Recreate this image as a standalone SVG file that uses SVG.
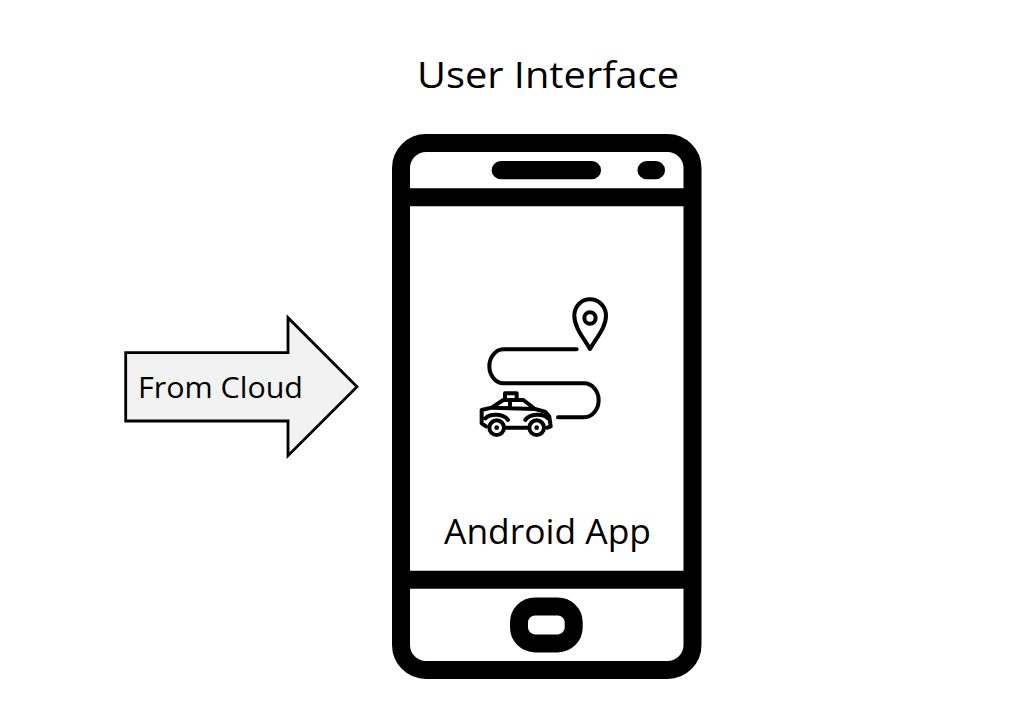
<svg xmlns="http://www.w3.org/2000/svg" width="1024" height="709" viewBox="0 0 1024 709">
<style>
.t{font-family:"Open Sans","Noto Sans","Liberation Sans",sans-serif;fill:#000}
.p{fill:none;stroke:#000;stroke-width:18}
.i{fill:none;stroke:#000;stroke-width:12;stroke-linecap:round;stroke-linejoin:round}
</style>
<rect width="1024" height="709" fill="#fff"/>
<g id="title"><text class="t" x="417" y="88" font-size="37" textLength="262" lengthAdjust="spacingAndGlyphs">User Interface</text></g>
<g id="phone">
<rect class="p" x="401" y="143" width="291.500" height="527" rx="25"/>
<path class="p" d="M401 197.300H692.500M401 579.700H692.500"/>
<rect x="491.700" y="161" width="109.300" height="18.300" rx="9.150"/>
<rect x="637.500" y="161" width="27.500" height="18.300" rx="9.150"/>
<rect class="p" x="519" y="606.400" width="54.700" height="37" rx="16"/>
</g>
<g id="icon" transform="translate(460 285) scale(.3333)">
<path class="i" d="M390 192C372 160 343 128 343 92C343 64 364 43 390 43C416 43 438 64 438 92C438 128 408 160 390 192Z"/>
<circle class="i" cx="390" cy="99" r="17"/>
<path class="i" d="M350 193H130C106 193 88 218 88 244C88 270 106 295 130 295H372C398 295 416 320 416 346C416 372 398 397 372 397H294"/>
<path class="i" d="M78 424L65 415V375L95 368L130 345H190L225 372L255 380L268 395L272 424L262 428M138 428H202M135 345V325H170V345M95 368L225 372M150 345V368M76 400C90 385 130 385 144 405M196 405C210 385 250 385 264 400"/>
<circle class="i" cx="110" cy="428" r="22" fill="#fff"/>
<circle class="i" cx="230" cy="428" r="22" fill="#fff"/>
<circle cx="110" cy="428" r="7"/>
<circle cx="230" cy="428" r="7"/>
</g>
<g id="from-cloud">
<path d="M125.700 352.700H288V317.700L357 386.700L288 455.700V421H125.700Z" fill="#f2f2f2" stroke="#000" stroke-width="2.800"/>
<text class="t" x="138" y="398" font-size="30" textLength="165" lengthAdjust="spacingAndGlyphs">From Cloud</text>
</g>
<g id="android-app"><text class="t" x="444" y="544" font-size="34" textLength="207" lengthAdjust="spacingAndGlyphs">Android App</text></g>
<g id="connectors"></g>
</svg>
